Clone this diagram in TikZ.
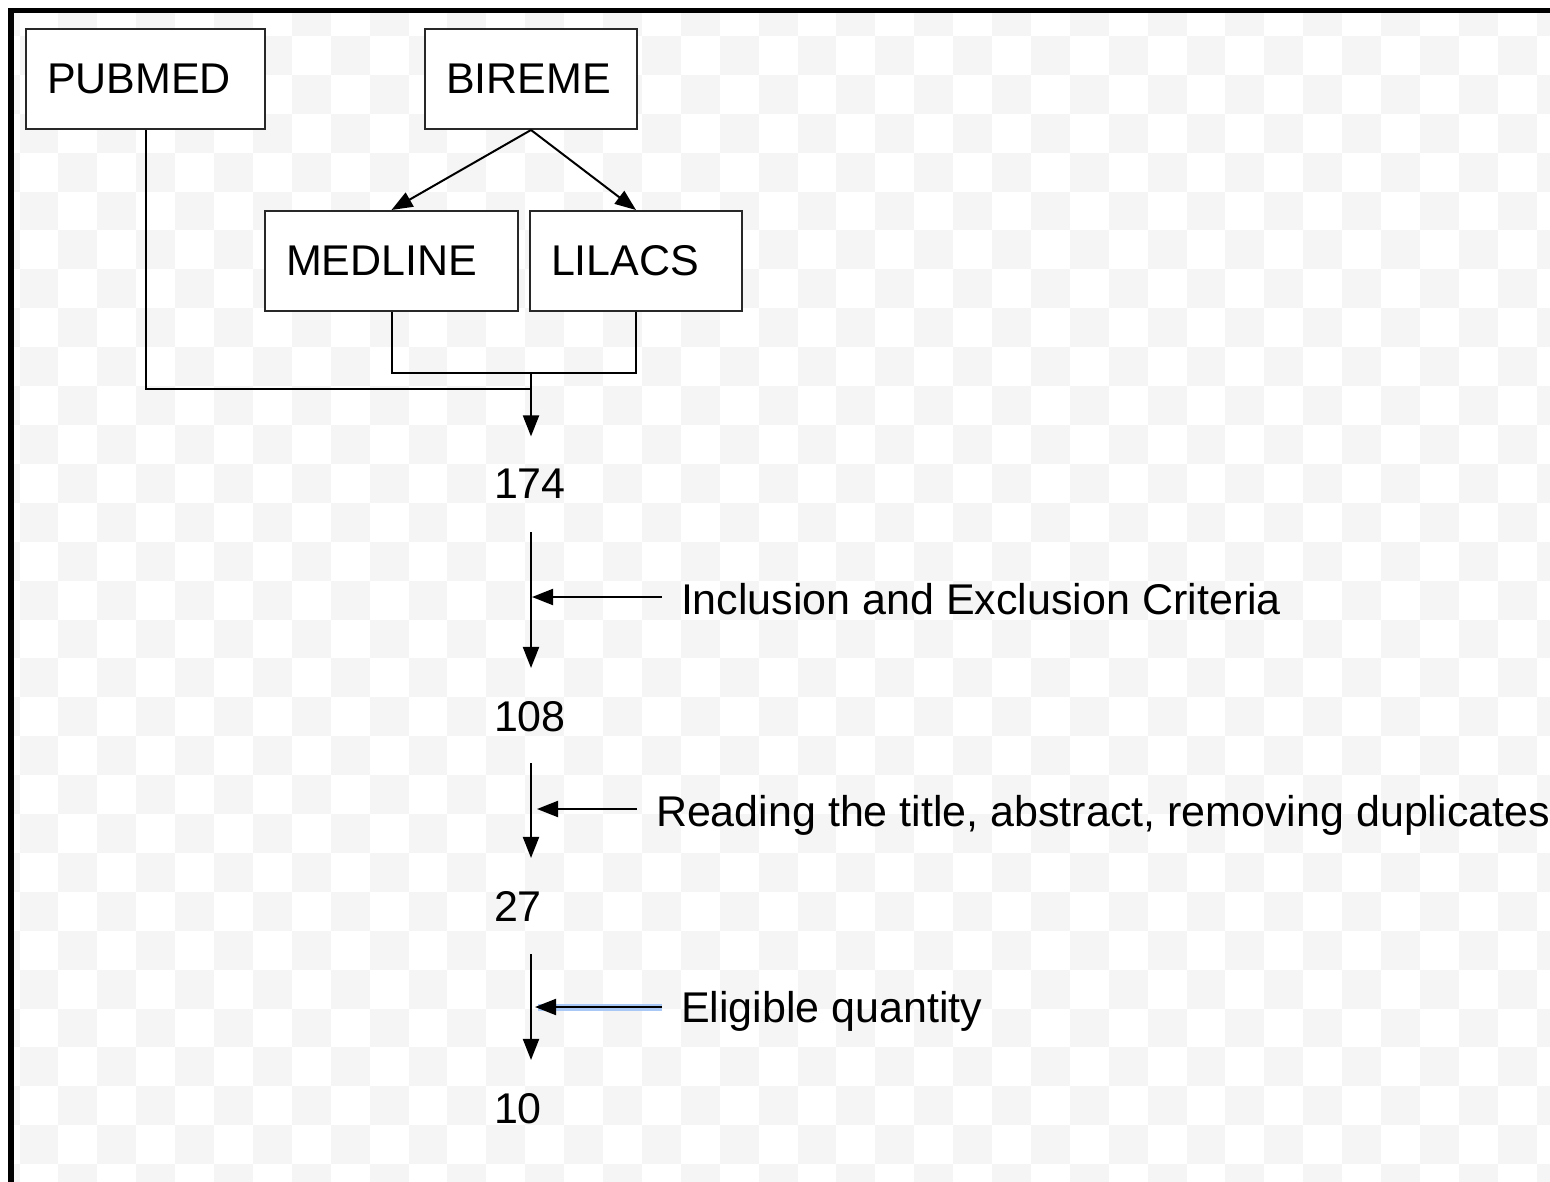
\documentclass[tikz,border=0pt]{standalone}
\usepackage{fontspec}
\setmainfont{Liberation Sans}
\usetikzlibrary{arrows.meta}
\newcommand\bigf{\fontsize{43}{51}\selectfont}
\definecolor{cbgray}{RGB}{245,245,245}
\definecolor{boxline}{RGB}{40,40,40}
\definecolor{selblue}{RGB}{170,200,245}
\tikzset{
  box/.style={draw=boxline, line width=2pt, fill=white, minimum height=100pt,
    inner xsep=21pt, inner ysep=0pt, text width=#1, align=left, font=\bigf},
  num/.style={font=\bigf, inner sep=0pt, outer sep=0pt, text width=74pt, align=left, anchor=base},
  lab/.style={font=\bigf, inner sep=0pt, outer sep=0pt, anchor=base west},
  conn/.style={line width=2pt, black},
  arr/.style={line width=2pt, black, -{Triangle[length=21pt,width=16pt]}},
}
\begin{document}
\begin{tikzpicture}[x=1pt,y=-1pt]
\useasboundingbox (0,0) rectangle (1550,1182);
\fill[white] (0,0) rectangle (1550,1182);
% checkerboard background
\begin{scope}
\clip (13,13) rectangle (1550,1182);
\foreach \i in {-1,...,39} {
  \foreach \j in {-1,...,29} {
    \pgfmathtruncatemacro\cbpar{mod(\i+\j+2,2)}
    \ifnum\cbpar=0
      \fill[cbgray] ({19.5+38.9*\i},{36+38.9*\j}) rectangle ++(38.9,38.9);
    \fi
  }
}
\end{scope}
% frame
\draw[line width=5.5pt] (10.75,1182) -- (10.75,10.5) -- (1550,10.5);

% boxes
\node[box=197pt] (pubmed)  at (145.5,79)  {PUBMED};
\node[box=170pt] (bireme)  at (531,79)    {BIREME};
\node[box=211pt] (medline) at (391.5,261) {MEDLINE};
\node[box=170pt] (lilacs)  at (636,261)   {LILACS};

% numbers
\node[num] (n174) at (531,498)  {174};
\node[num] (n108) at (531,731)  {108};
\node[num] (n27)  at (531,921)  {27};
\node[num] (n10)  at (531,1123) {10};

% side labels
\node[lab] (l1) at (681,614)  {Inclusion and Exclusion Criteria};
\node[lab] (l2) at (656,826)  {Reading the title, abstract, removing duplicates};
\node[lab] (l3) at (681,1022) {Eligible quantity};

% junctions
\coordinate (j1) at (531,373);
\coordinate (j2) at (531,389);

% top connectors
\draw[arr] (bireme.south) -- (medline.north);
\draw[arr] (bireme.south) -- (lilacs.north);
\draw[conn] (medline.south) |- (j1) -| (lilacs.south);
\draw[conn] (pubmed.south) |- (j2);
\draw[arr] (j1) -- ([yshift=32pt]n174.north);

% main flow
\draw[arr] ([yshift=-34pt]n174.south) -- ([yshift=33pt]n108.north);
\draw[arr] ([yshift=-32pt]n108.south) -- ([yshift=33pt]n27.north);
\draw[arr] ([yshift=-33pt]n27.south) -- ([yshift=33pt]n10.north);

% side arrows
\coordinate (s1) at (662,597);  \coordinate (e1) at (532,597);
\coordinate (s2) at (637,809);  \coordinate (e2) at (537,809);
\coordinate (s3) at (662,1007); \coordinate (e3) at (535,1007);
\draw[arr] (s1) -- (e1);
\draw[arr] (s2) -- (e2);
\draw[line width=7pt, selblue] (s3) -- ([xshift=3pt]e3);
\draw[arr] (s3) -- (e3);
\end{tikzpicture}
\end{document}
